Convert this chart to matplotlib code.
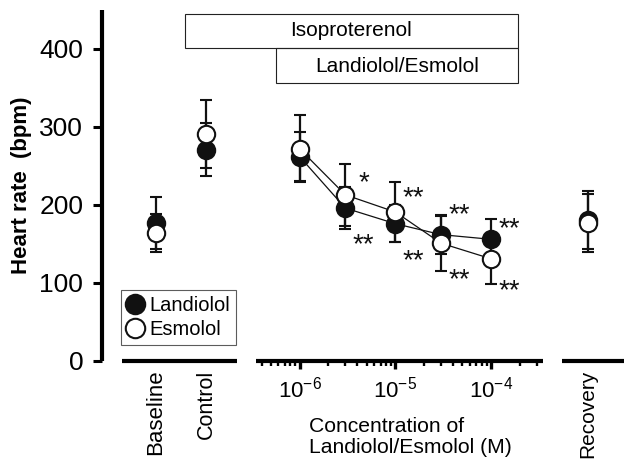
import numpy as np
import matplotlib
matplotlib.use("Agg")
import matplotlib.pyplot as plt
from matplotlib.patches import Rectangle
from matplotlib.lines import Line2D
from matplotlib.ticker import LogLocator, NullFormatter, LogFormatterSciNotation

plt.rcParams['font.family'] = ['Liberation Sans', 'DejaVu Sans']

# data (heart rate, bpm; mean and SD)
base_labels = ['Baseline', 'Control']
land_base = [177, 271]
land_base_sd = [33, 34]
esm_base = [164, 291]
esm_base_sd = [24, 44]

conc = [1e-6, 3e-6, 1e-5, 3e-5, 1e-4]
land_conc = [262, 196, 176, 162, 156]
land_conc_sd = [31, 27, 24, 25, 26]
esm_conc = [272, 213, 191, 151, 131]
esm_conc_sd = [43, 40, 39, 35, 32]

rec_labels = ['Recovery']
land_rec = [181]
land_rec_sd = [37]
esm_rec = [177]
esm_rec_sd = [37]

star_conc = [3e-6, 3e-6, 1e-5, 1e-5, 3e-5, 3e-5, 1e-4, 1e-4]
star_y = [238, 159, 219, 138, 198, 114, 179, 100]
star_text = ['*', '**', '**', '**', '**', '**', '**', '**']

W, H = 624, 466
fig = plt.figure(figsize=(W / 100, H / 100), dpi=100)

def fx(px):
    return px / W

def fy(py):
    return 1 - py / H

bot = fy(361)
ht = (361 - 10) / H
ax1 = fig.add_axes([fx(102), bot, fx(240 - 102), ht])
ax2 = fig.add_axes([fx(256), bot, fx(543 - 256), ht])
ax3 = fig.add_axes([fx(562), bot, fx(624 - 562), ht])

lw_sp = 3.0
for ax in (ax1, ax2, ax3):
    ax.set_ylim(0, 450)
    for s in ('top', 'right'):
        ax.spines[s].set_visible(False)
    ax.spines['bottom'].set_linewidth(lw_sp)
    ax.spines['bottom'].set_capstyle('butt')
    ax.patch.set_visible(False)
for ax in (ax2, ax3):
    ax.spines['left'].set_visible(False)
    ax.set_yticks([])

marker_kw = dict(marker='o', markersize=12.5, markeredgewidth=1.5,
                 markeredgecolor='#111111', capsize=4, elinewidth=1.6,
                 capthick=1.8, ecolor='#111111')

def draw(ax, x, ly, lsd, ey, esd, line):
    ls = '-' if line else 'none'
    ax.errorbar(x, ly, yerr=lsd, color='#111111', markerfacecolor='#111111',
                linestyle=ls, linewidth=0.9, zorder=3, **marker_kw)
    ax.errorbar(x, ey, yerr=esd, color='#111111', markerfacecolor='white',
                linestyle=ls, linewidth=0.9, zorder=4, **marker_kw)

# left segment
xb = np.arange(len(base_labels))
draw(ax1, xb, land_base, land_base_sd, esm_base, esm_base_sd, False)
ax1.set_xlim(-1.068, 1.676)
ax1.spines['bottom'].set_bounds(-0.676, 1.616)
ax1.spines['left'].set_linewidth(lw_sp)
ax1.spines['left'].set_capstyle('butt')
ax1.set_xticks(xb)
ax1.set_xticklabels(base_labels, rotation=90, fontsize=15.5, va='top')
ax1.get_xticklabels()[0].set_fontsize(16)
ax1.tick_params(axis='x', length=0, pad=6)
ax1.set_yticks([0, 100, 200, 300, 400])
ax1.tick_params(axis='y', length=6.5, width=2.2, labelsize=19, pad=7)
ax1.set_ylabel('Heart rate  (bpm)', fontsize=16, fontweight='bold', labelpad=5)

# concentration segment
draw(ax2, conc, land_conc, land_conc_sd, esm_conc, esm_conc_sd, True)
ax2.set_xscale('log')
ax2.set_xlim(3.5e-7, 3.48e-4)
ax2.xaxis.set_major_locator(LogLocator(base=10))
ax2.xaxis.set_major_formatter(LogFormatterSciNotation())
ax2.xaxis.set_minor_locator(LogLocator(base=10, subs=np.arange(2, 10)))
ax2.xaxis.set_minor_formatter(NullFormatter())
ax2.tick_params(axis='x', which='major', length=6, width=2.4, labelsize=16, pad=5)
ax2.tick_params(axis='x', which='minor', length=3.6, width=1.7)
for c, y, t in zip(star_conc, star_y, star_text):
    ax2.annotate(t, xy=(c, y), xytext=(13, -11), textcoords='offset points',
                 ha='center', va='baseline', fontsize=20, color='#111111')

# recovery segment
xr = np.arange(len(rec_labels))
draw(ax3, xr, land_rec, land_rec_sd, esm_rec, esm_rec_sd, False)
ax3.set_xlim(-0.42, 0.58)
ax3.set_xticks(xr)
ax3.set_xticklabels(rec_labels, rotation=90, fontsize=15, va='top')
ax3.tick_params(axis='x', length=0, pad=6)

# legend
handles = [Line2D([], [], linestyle='none', marker='o', markersize=14,
                  markerfacecolor='#111111', markeredgecolor='#111111', markeredgewidth=1.5),
           Line2D([], [], linestyle='none', marker='o', markersize=14,
                  markerfacecolor='white', markeredgecolor='#111111', markeredgewidth=1.5)]
leg = ax1.legend(handles, ['Landiolol', 'Esmolol'], loc='upper left',
                 bbox_to_anchor=(fx(121), fy(290)), bbox_transform=fig.transFigure,
                 borderaxespad=0, fontsize=14.5, frameon=True, fancybox=False,
                 edgecolor='#333333', handlelength=0.8, handletextpad=0.3,
                 labelspacing=0.25, borderpad=0.3)
leg.get_frame().set_linewidth(0.8)

# treatment boxes
fig.add_artist(Rectangle((fx(185), fy(48)), fx(518 - 185), (48 - 14) / H,
                         transform=fig.transFigure, fill=False, lw=0.8, ec='#222222'))
fig.add_artist(Rectangle((fx(276), fy(83)), fx(518 - 276), (83 - 48) / H,
                         transform=fig.transFigure, fill=False, lw=0.8, ec='#222222'))
fig.text(fx(351.5), fy(31), 'Isoproterenol', ha='center', va='center', fontsize=15)
fig.text(fx(397), fy(66), 'Landiolol/Esmolol', ha='center', va='center', fontsize=15)

fig.text(fx(309), fy(437), 'Concentration of\nLandiolol/Esmolol (M)', ha='left',
         va='center', fontsize=15.2, linespacing=1.1)

fig.savefig('out.png', dpi=100)
